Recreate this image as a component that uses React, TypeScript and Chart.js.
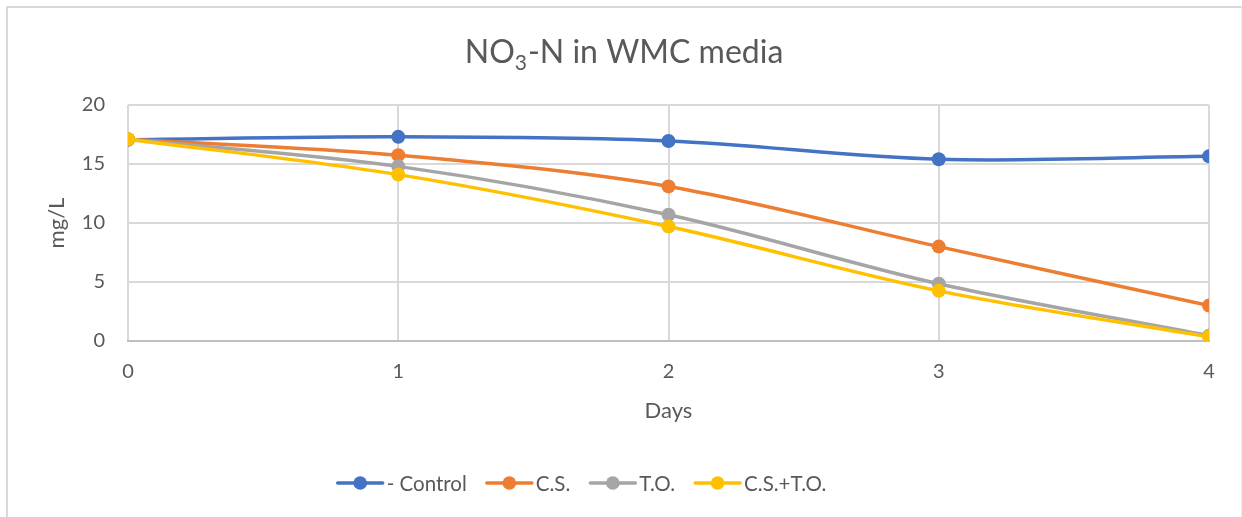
import React, { useEffect, useRef } from "react";
import { Chart, registerables } from "chart.js";

Chart.register(...registerables);

const days = [0, 1, 2, 3, 4];
const seriesNames = ["- Control", "C.S.", "T.O.", "C.S.+T.O."];
const controlValues = [17.05, 17.3, 16.95, 15.4, 15.65];
const csValues = [17.1, 15.75, 13.1, 8.0, 3.0];
const toValues = [17.1, 14.8, 10.7, 4.85, 0.45];
const cstoValues = [17.1, 14.1, 9.7, 4.25, 0.35];
const seriesColors = ["#4472C4", "#ED7D31", "#A5A5A5", "#FFC000"];
const yTicks = [0, 5, 10, 15, 20];
const titleParts = ["NO", "3", "-N in WMC media"];
const xTitle = "Days";
const yTitle = "mg/L";

const FONT = "Lato";
const TEXT = "#595959";

const titleLegendPlugin = {
  id: "titleLegend",
  afterDraw(chart: any) {
    const ctx = chart.ctx as CanvasRenderingContext2D;
    ctx.save();
    // Title with subscript
    ctx.fillStyle = TEXT;
    ctx.textBaseline = "alphabetic";
    ctx.textAlign = "left";
    const big = `32px ${FONT}`;
    const small = `21px ${FONT}`;
    ctx.font = big;
    const w0 = ctx.measureText(titleParts[0]).width;
    const w2 = ctx.measureText(titleParts[2]).width;
    ctx.font = small;
    const w1 = ctx.measureText(titleParts[1]).width;
    const total = w0 + w1 + w2 + 1;
    let x = 624 - total / 2;
    const base = 63;
    ctx.font = big;
    ctx.fillText(titleParts[0], x, base);
    x += w0;
    ctx.font = small;
    ctx.fillText(titleParts[1], x, base + 7);
    x += w1 + 1;
    ctx.font = big;
    ctx.fillText(titleParts[2], x, base);

    // Legend
    const lf = `20.5px ${FONT}`;
    ctx.font = lf;
    const lineLen = 45;
    const gapText = 4;
    const gapItem = 20;
    const items = chart.data.datasets.map((d: any) => ({
      label: d.label,
      color: d.borderColor,
      w: ctx.measureText(d.label).width,
    }));
    let totalW = 0;
    items.forEach((it: any, i: number) => {
      totalW += lineLen + gapText + it.w + (i < items.length - 1 ? gapItem : 0);
    });
    let lx = 582 - totalW / 2;
    const ly = 483;
    items.forEach((it: any) => {
      ctx.strokeStyle = it.color;
      ctx.lineWidth = 3.5;
      ctx.lineCap = "round";
      ctx.beginPath();
      ctx.moveTo(lx, ly);
      ctx.lineTo(lx + lineLen, ly);
      ctx.stroke();
      ctx.fillStyle = it.color;
      ctx.beginPath();
      ctx.arc(lx + lineLen / 2, ly, 6.8, 0, Math.PI * 2);
      ctx.fill();
      ctx.fillStyle = TEXT;
      ctx.fillText(it.label, lx + lineLen + gapText, ly + 8);
      lx += lineLen + gapText + it.w + gapItem;
    });
    ctx.restore();
  },
};

export default function App() {
  const ref = useRef<HTMLCanvasElement | null>(null);
  useEffect(() => {
    if (!ref.current) return;
    const all = [controlValues, csValues, toValues, cstoValues];
    const datasets = all.map((vals, i) => ({
      label: seriesNames[i],
      data: days.map((d, j) => ({ x: d, y: vals[j] })),
      borderColor: seriesColors[i],
      backgroundColor: seriesColors[i],
      pointBackgroundColor: seriesColors[i],
      pointBorderColor: seriesColors[i],
      pointRadius: 7,
      pointBorderWidth: 0,
      borderWidth: 3.5,
      tension: 0.33,
      order: 4 - i,
    }));
    const chart = new Chart(ref.current, {
      type: "line",
      data: { datasets },
      plugins: [titleLegendPlugin],
      options: {
        animation: false,
        responsive: false,
        events: [],
        layout: { padding: { top: 105, right: 33, bottom: 86, left: 0 } },
        plugins: {
          legend: { display: false },
          title: { display: false },
          tooltip: { enabled: false },
        },
        scales: {
          x: {
            type: "linear",
            min: 0,
            max: 4,
            afterFit: (s: any) => {
              s.height = 90;
            },
            ticks: {
              stepSize: 1,
              padding: 19,
              color: TEXT,
              font: { family: FONT, size: 20 },
            },
            grid: { color: "#D9D9D9", lineWidth: 2, drawTicks: false },
            border: { color: "#BFBFBF", width: 2 },
            title: {
              display: true,
              text: xTitle,
              color: TEXT,
              font: { family: FONT, size: 22 },
              padding: { top: 0, bottom: 7 },
            },
          },
          y: {
            min: 0,
            max: 20,
            afterFit: (s: any) => {
              s.width = 128;
            },
            afterBuildTicks: (s: any) => {
              s.ticks = yTicks.map((v) => ({ value: v }));
            },
            ticks: {
              padding: 23,
              color: TEXT,
              font: { family: FONT, size: 20 },
            },
            grid: { color: "#D9D9D9", lineWidth: 2, drawTicks: false },
            border: { display: false },
            title: {
              display: true,
              text: yTitle,
              color: TEXT,
              font: { family: FONT, size: 22 },
              padding: { top: 44, bottom: 0 },
            },
          },
        },
      },
    });
    return () => chart.destroy();
  }, []);
  return (
    <div
      style={{
        position: "fixed",
        left: 0,
        top: 0,
        width: 1242,
        height: 517,
        background: "#fff",
        overflow: "hidden",
      }}
    >
      <div
        style={{
          position: "absolute",
          left: 6,
          top: 6,
          width: 1233,
          height: 600,
          borderLeft: "2px solid #D9D9D9",
          borderTop: "2px solid #D9D9D9",
          borderRight: "1px solid #EEEEEE",
        }}
      />
      <canvas
        ref={ref}
        width={1242}
        height={517}
        style={{ position: "absolute", left: 0, top: 0 }}
      />
    </div>
  );
}
